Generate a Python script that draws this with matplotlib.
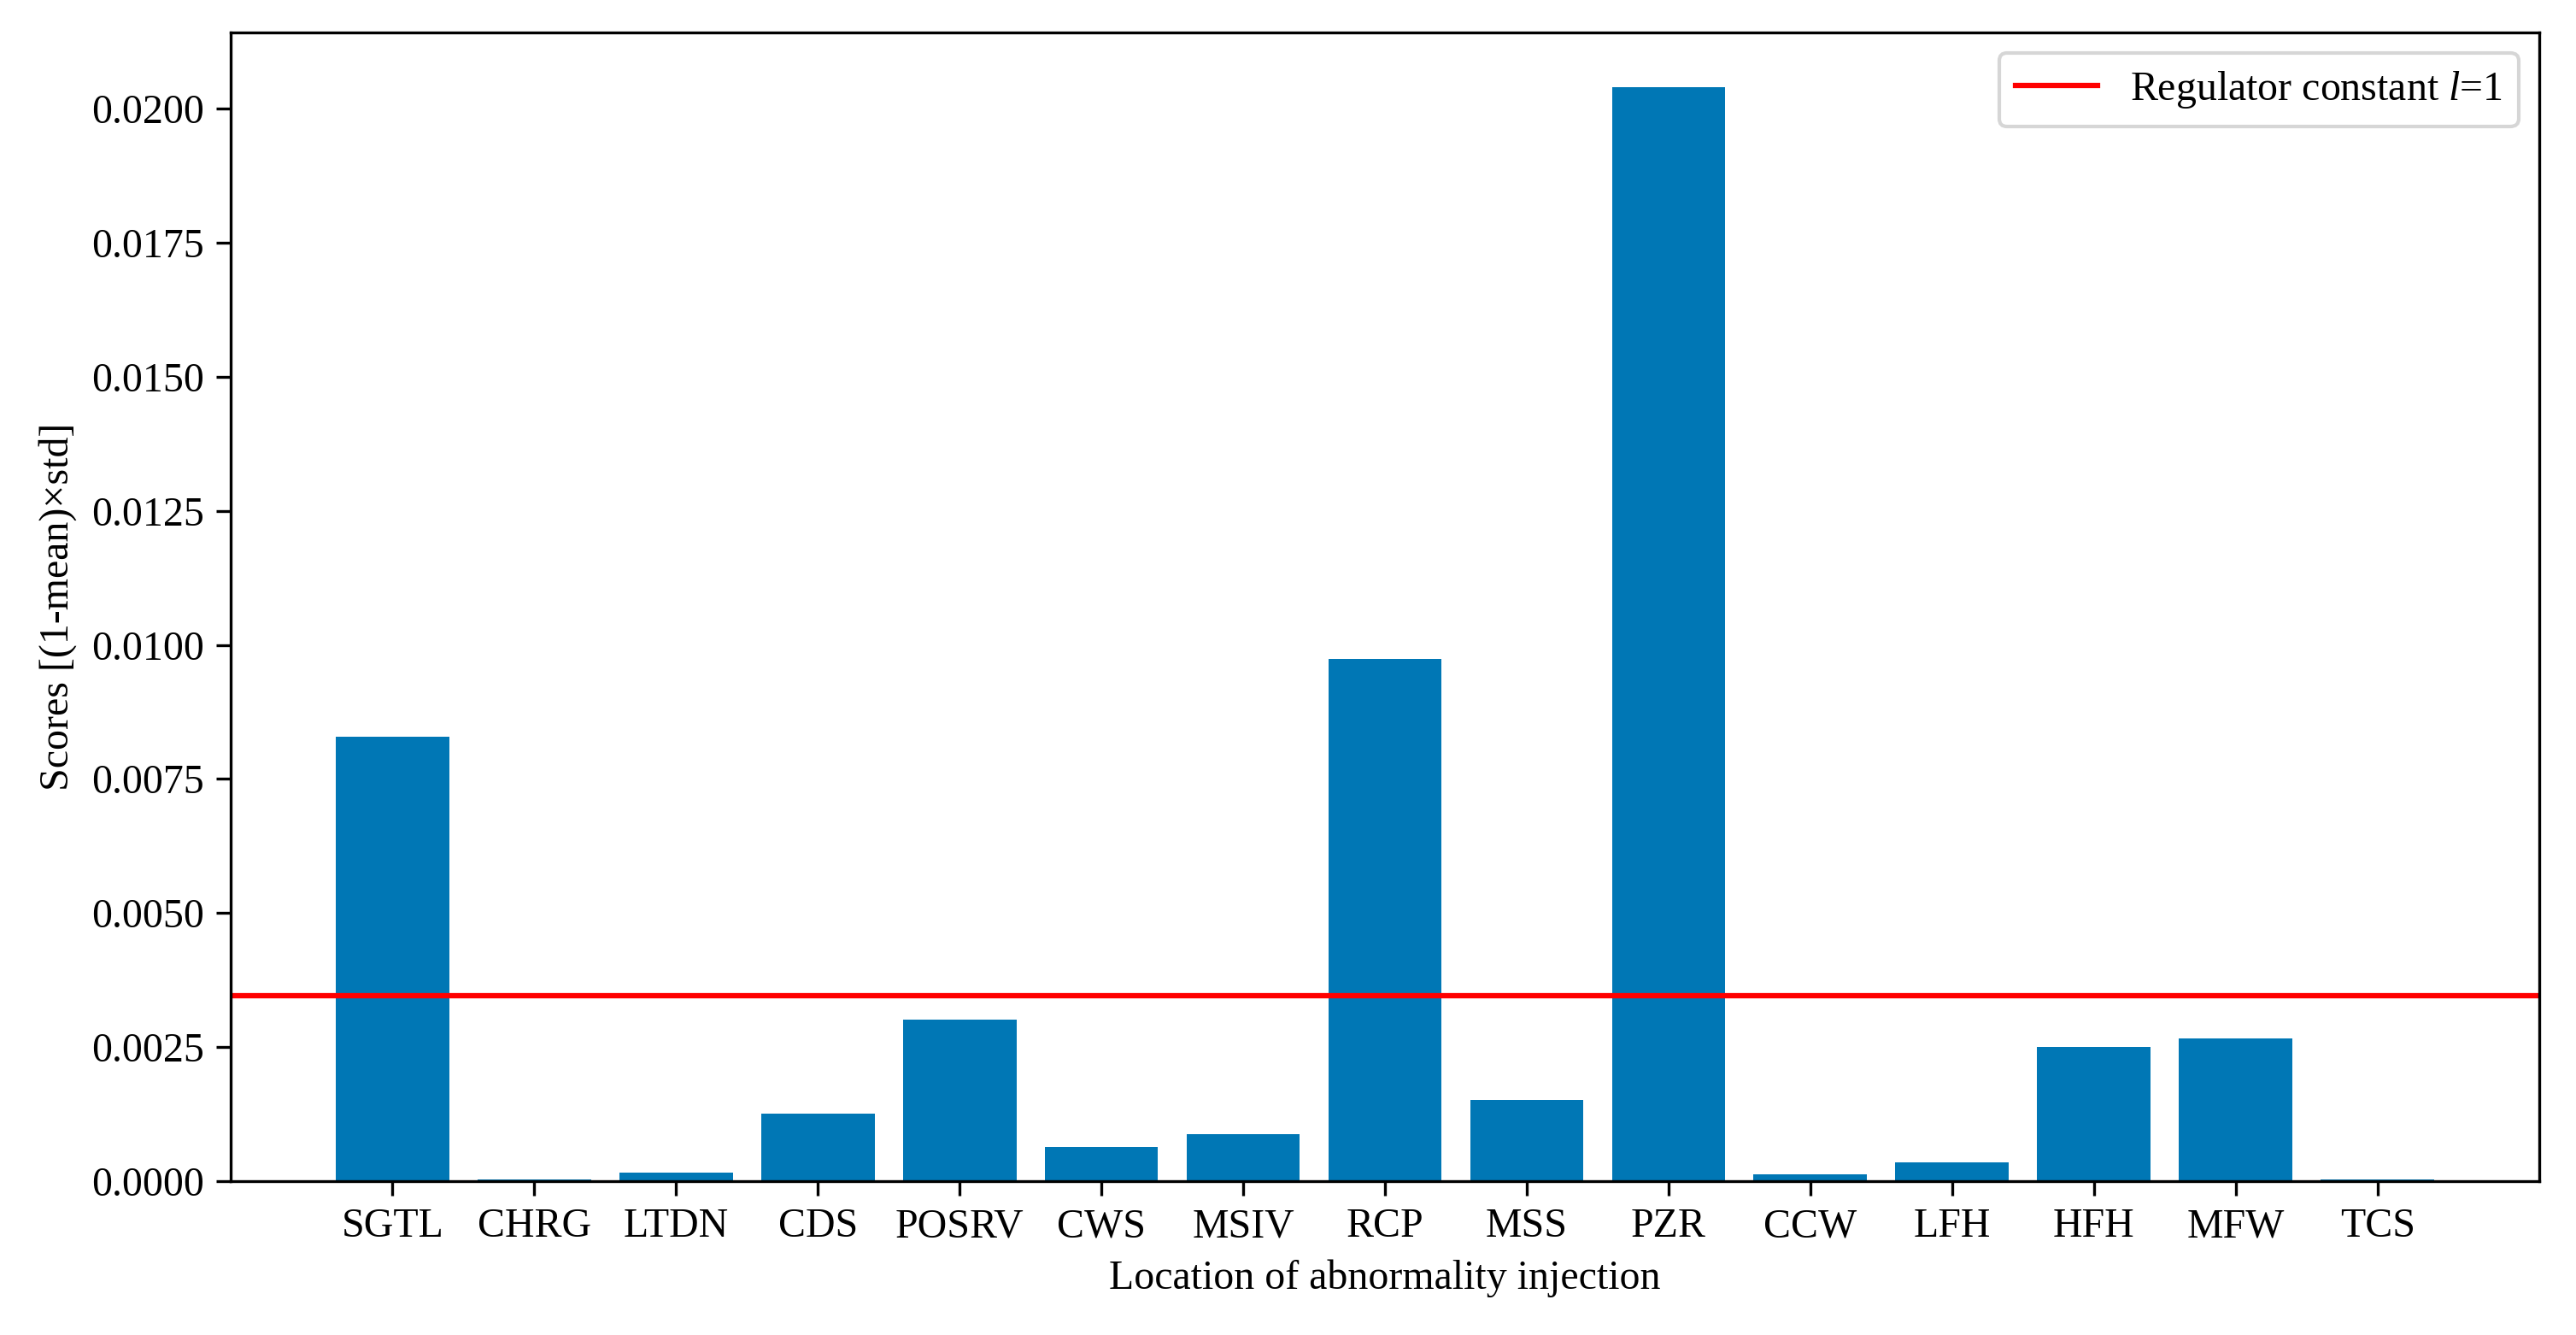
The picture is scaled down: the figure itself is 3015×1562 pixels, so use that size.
import numpy as np
import matplotlib
matplotlib.use('Agg')
import matplotlib.pyplot as plt

# Dados
locations = ['SGTL', 'CHRG', 'LTDN', 'CDS', 'POSRV', 'CWS', 'MSIV', 'RCP',
             'MSS', 'PZR', 'CCW', 'LFH', 'HFH', 'MFW', 'TCS']
scores = [0.00828, 0.00004, 0.00016, 0.00126, 0.00301, 0.00064, 0.00088, 0.00974,
          0.00151, 0.0204, 0.00013, 0.00035, 0.00250, 0.00266, 0.00003]
regulator_value = 0.00346

plt.rcParams['font.family'] = ['Liberation Serif', 'DejaVu Serif']
plt.rcParams['mathtext.fontset'] = 'custom'
plt.rcParams['mathtext.rm'] = 'Liberation Serif'
plt.rcParams['mathtext.it'] = 'Liberation Serif:italic'
plt.rcParams['font.size'] = 11.5

fig, ax = plt.subplots(figsize=(10.05, 5.2067), dpi=300)
fig.subplots_adjust(left=0.0896, right=0.9857, top=0.9757, bottom=0.1152)

ax.bar(locations, scores, color='#0077b5')
ax.axhline(regulator_value, color='red', linewidth=1.5, label='Regulator constant $\\mathit{l}$=1')

ax.set_yticks(np.arange(0, 0.0201, 0.0025))
ax.set_yticklabels([f'{v:.4f}' for v in np.arange(0, 0.0201, 0.0025)])
ax.tick_params(length=4)

ax.set_xlabel('Location of abnormality injection')
ax.set_ylabel('Scores [(1-mean)×std]')
ax.legend(loc='upper right', fontsize=11.5)

plt.savefig('out.png')
